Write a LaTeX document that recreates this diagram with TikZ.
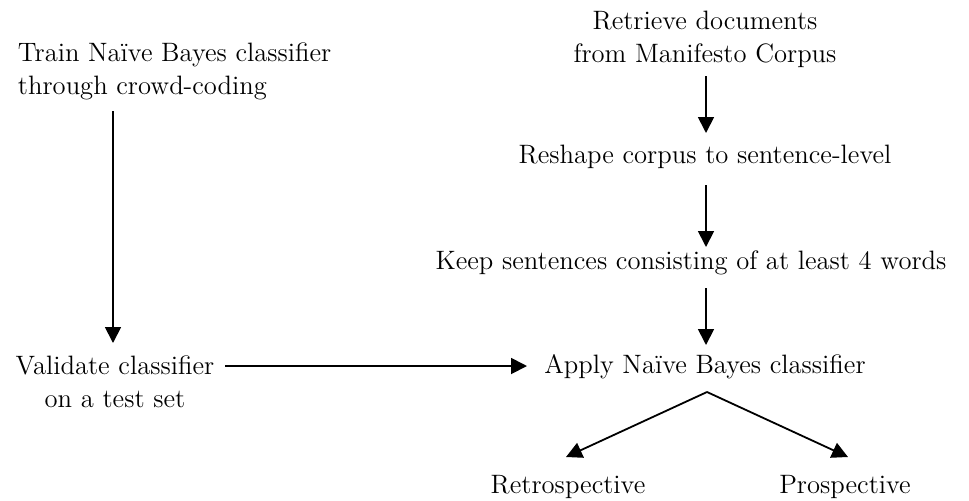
\documentclass[tikz,border=0pt]{standalone}
\usetikzlibrary{arrows.meta}
\begin{document}
\begin{tikzpicture}[x=0.5pt,y=-0.5pt,
  lbl/.style={inner sep=0pt,outer sep=3pt,font=\fontsize{13.3}{16.5}\selectfont,align=center},
  arr/.style={-{Triangle[length=8pt,width=8pt]},line width=0.9pt}]
\useasboundingbox (0,0) rectangle (969,500);
\node[lbl,align=left,anchor=west] (train) at (12,71) {Train Na\"ive Bayes classifier\\through crowd-coding};
\node[lbl] (valid) at (115,382) {Validate classifier\\on a test set};
\node[lbl] (retr) at (705,39) {Retrieve documents\\from Manifesto Corpus};
\node[lbl] (resh) at (705,157) {Reshape corpus to sentence-level};
\node[lbl] (keep) at (691,263) {Keep sentences consisting of at least 4 words};
\node[lbl] (apply) at (705,367) {Apply Na\"ive Bayes classifier};
\node[lbl] (retro) at (568,487) {Retrospective};
\node[lbl] (pros) at (845,487) {Prospective};
\coordinate (t1) at (113,111);
\coordinate (t2) at (113,343);
\draw[arr] (t1) -- (t2);
\coordinate (v1) at (225,366);
\coordinate (v2) at (527,366);
\draw[arr] (v1) -- (v2);
\coordinate (a1) at (706,76);
\coordinate (a2) at (706,133);
\draw[arr] (a1) -- (a2);
\coordinate (b1) at (706,185);
\coordinate (b2) at (706,247);
\draw[arr] (b1) -- (b2);
\coordinate (c1) at (706,288);
\coordinate (c2) at (706,345);
\draw[arr] (c1) -- (c2);
\coordinate (d0) at (707,392);
\coordinate (d1) at (566,457);
\coordinate (d2) at (848,457);
\draw[arr] (d0) -- (d1);
\draw[arr] (d0) -- (d2);
\end{tikzpicture}
\end{document}
